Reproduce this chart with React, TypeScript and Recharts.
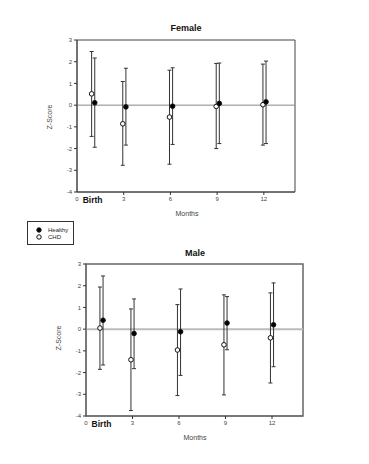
import React from "react";
import {
  ScatterChart,
  Scatter,
  XAxis,
  YAxis,
  ErrorBar,
  ReferenceLine,
  ReferenceArea,
} from "recharts";

// Months of measurement (1 = Birth)
const months = [1, 3, 6, 9, 12];
const xTicks = [0, 1, 3, 6, 9, 12];
const yTicks = [-4, -3, -2, -1, 0, 1, 2, 3];

// Female
const femaleHealthyMean = [0.11, -0.08, -0.05, 0.08, 0.15];
const femaleHealthyUpper = [2.17, 1.7, 1.72, 1.94, 2.03];
const femaleHealthyLower = [-1.94, -1.84, -1.81, -1.77, -1.77];
const femaleCHDMean = [0.52, -0.86, -0.55, -0.06, 0.02];
const femaleCHDUpper = [2.47, 1.09, 1.61, 1.92, 1.89];
const femaleCHDLower = [-1.44, -2.77, -2.72, -2.0, -1.84];

// Male
const maleHealthyMean = [0.41, -0.2, -0.12, 0.28, 0.2];
const maleHealthyUpper = [2.45, 1.39, 1.85, 1.5, 2.13];
const maleHealthyLower = [-1.65, -1.82, -2.13, -0.95, -1.73];
const maleCHDMean = [0.05, -1.41, -0.96, -0.72, -0.4];
const maleCHDUpper = [1.94, 0.93, 1.13, 1.58, 1.67];
const maleCHDLower = [-1.85, -3.75, -3.06, -3.03, -2.48];

const FONT = "'Liberation Sans', Arial, sans-serif";

function build(mean: number[], upper: number[], lower: number[], offset: number) {
  return months.map((m, i) => ({
    x: m + offset,
    y: mean[i],
    err: [mean[i] - lower[i], upper[i] - mean[i]],
  }));
}

const Dot = (fill: string) => (props: any) => {
  const { cx, cy } = props;
  if (cx == null || cy == null) return null;
  return <circle cx={cx} cy={cy} r={2.3} fill={fill} stroke="#111" strokeWidth={1} />;
};

const XTick = (props: any) => {
  const { x, y, payload } = props;
  if (payload.value === 1) {
    return (
      <text x={x} y={y + 6} textAnchor="middle" fontFamily={FONT} fontSize={8.5} fontWeight="bold" fill="#111">
        Birth
      </text>
    );
  }
  return (
    <g>
      {payload.value > 0 && <line x1={x} x2={x} y1={y - 5} y2={y - 2} stroke="#333" />}
      <text x={x} y={y + 4} textAnchor="middle" fontFamily={FONT} fontSize={6} fill="#444">
        {payload.value}
      </text>
    </g>
  );
};

function Panel(props: {
  top: number;
  height: number;
  margin: { top: number; right: number; bottom: number; left: number };
  healthy: any[];
  chd: any[];
  frameColor: string;
  frameWidth: number;
  zeroColor: string;
  zeroWidth: number;
}) {
  return (
    <div style={{ position: "absolute", left: 0, top: props.top }}>
      <ScatterChart width={369} height={props.height} margin={props.margin}>
        <XAxis
          type="number"
          dataKey="x"
          domain={[0, 14]}
          ticks={xTicks}
          allowDataOverflow
          height={20}
          tickSize={3}
          tickMargin={2}
          axisLine={{ stroke: props.frameColor }}
          tickLine={false}
          tick={<XTick />}
          interval={0}
        />
        <YAxis
          type="number"
          dataKey="y"
          domain={[-4, 3]}
          ticks={yTicks}
          allowDataOverflow
          width={20}
          tickSize={3}
          tickMargin={2}
          axisLine={{ stroke: props.frameColor }}
          tickLine={{ stroke: "#333" }}
          tick={{ fontSize: 6, fill: "#444", fontFamily: FONT }}
          interval={0}
        />
        <ReferenceArea
          x1={0}
          x2={14}
          y1={-4}
          y2={3}
          fill="none"
          stroke={props.frameColor}
          strokeWidth={props.frameWidth}
          fillOpacity={0}
        />
        <ReferenceLine y={0} stroke={props.zeroColor} strokeWidth={props.zeroWidth} />
        <Scatter data={props.chd} isAnimationActive={false} shape={Dot("#fff")}>
          <ErrorBar dataKey="err" direction="y" width={2} stroke="#333" strokeWidth={1} />
        </Scatter>
        <Scatter data={props.healthy} isAnimationActive={false} shape={Dot("#000")}>
          <ErrorBar dataKey="err" direction="y" width={2} stroke="#333" strokeWidth={1} />
        </Scatter>
      </ScatterChart>
    </div>
  );
}

const textStyle: React.CSSProperties = {
  position: "absolute",
  fontFamily: FONT,
  whiteSpace: "nowrap",
  transform: "translate(-50%, -50%)",
  lineHeight: 1,
};

export default function App() {
  const fH = build(femaleHealthyMean, femaleHealthyUpper, femaleHealthyLower, 0.14);
  const fC = build(femaleCHDMean, femaleCHDUpper, femaleCHDLower, -0.06);
  const mH = build(maleHealthyMean, maleHealthyUpper, maleHealthyLower, 0.1);
  const mC = build(maleCHDMean, maleCHDUpper, maleCHDLower, -0.1);
  return (
    <div style={{ position: "absolute", left: 0, top: 0, width: 369, height: 464, background: "#fff" }}>
      <Panel
        top={0}
        height={230}
        margin={{ top: 40, right: 74, bottom: 18, left: 57 }}
        healthy={fH}
        chd={fC}
        frameColor="#444"
        frameWidth={1}
        zeroColor="#888"
        zeroWidth={1}
      />
      <Panel
        top={220}
        height={230}
        margin={{ top: 44, right: 66, bottom: 14, left: 66 }}
        healthy={mH}
        chd={mC}
        frameColor="#666"
        frameWidth={1.5}
        zeroColor="#bbb"
        zeroWidth={2}
      />
      <div style={{ ...textStyle, left: 186, top: 28, fontSize: 9, fontWeight: "bold", color: "#111" }}>Female</div>
      <div style={{ ...textStyle, left: 195, top: 253, fontSize: 9, fontWeight: "bold", color: "#111" }}>Male</div>
      <div style={{ ...textStyle, left: 49, top: 117, fontSize: 7, color: "#444", transform: "translate(-50%, -50%) rotate(-90deg)" }}>Z-Score</div>
      <div style={{ ...textStyle, left: 58, top: 338, fontSize: 7, color: "#444", transform: "translate(-50%, -50%) rotate(-90deg)" }}>Z-Score</div>
      <div style={{ ...textStyle, left: 187, top: 213, fontSize: 7, color: "#444" }}>Months</div>
      <div style={{ ...textStyle, left: 195, top: 437, fontSize: 7, color: "#444" }}>Months</div>
      <div
        style={{
          position: "absolute",
          left: 27,
          top: 221,
          width: 45,
          height: 22,
          border: "1px solid #333",
          fontFamily: FONT,
          fontSize: 6,
          color: "#222",
        }}
      >
        <svg width={12} height={22} style={{ position: "absolute", left: 6, top: 0 }}>
          <circle cx={5} cy={8} r={2.2} fill="#000" stroke="#111" />
          <circle cx={5} cy={15} r={2.2} fill="#fff" stroke="#111" />
        </svg>
        <div style={{ position: "absolute", left: 20, top: 5, lineHeight: 1 }}>Healthy</div>
        <div style={{ position: "absolute", left: 20, top: 12, lineHeight: 1 }}>CHD</div>
      </div>
    </div>
  );
}
